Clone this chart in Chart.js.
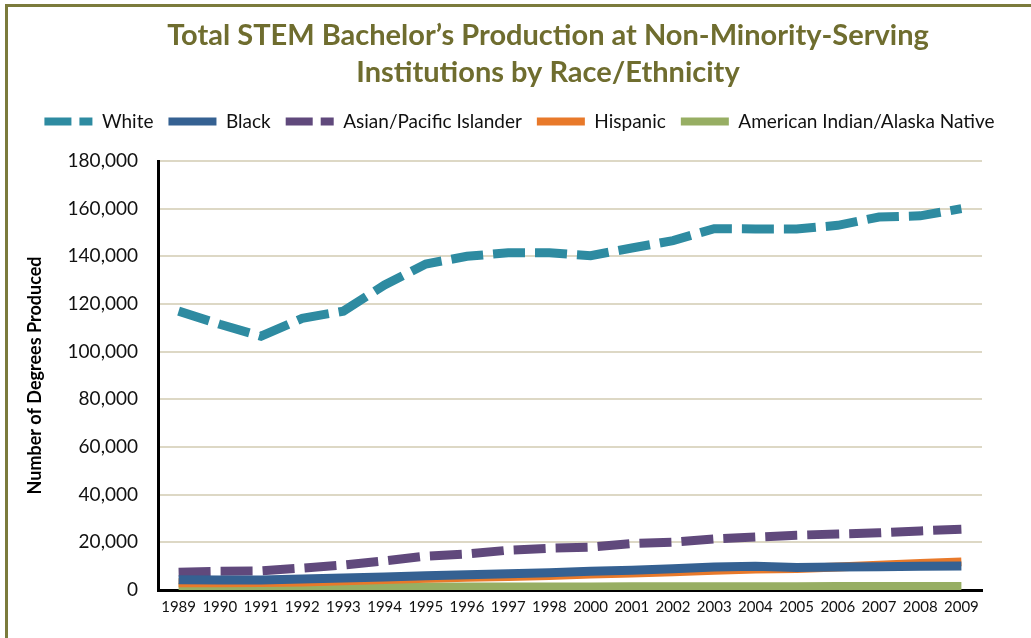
<!DOCTYPE html>
<html>
<head>
<meta charset="utf-8">
<script src="https://cdn.jsdelivr.net/npm/chart.js@4/dist/chart.umd.min.js"></script>
<style>
  html, body { margin: 0; padding: 0; background: #fff; }
  #wrap { position: relative; width: 1031px; height: 638px; }
  #frame { position: absolute; left: 5px; top: 4px; right: 0; bottom: 0;
           border-top: 3px solid #7b7b3c; border-left: 3px solid #7b7b3c; pointer-events: none; }
</style>
</head>
<body>
<div id="wrap">
  <canvas id="grafico" width="1031" height="638"></canvas>
  <div id="frame"></div>
</div>
<script>
// dados
const anos = ["1989","1990","1991","1992","1993","1994","1995","1996","1997","1998",
              "2000","2001","2002","2003","2004","2005","2006","2007","2008","2009"];

const branco = [117000,111500,106500,114000,117000,128000,136800,140000,141500,141500,
                140300,143500,146600,151600,151500,151500,153000,156500,157000,160000];
const negro = [4300,4200,4200,4600,5000,5500,6000,6400,6800,7200,
               7900,8300,8900,9700,10000,9400,9600,9800,10000,10100];
const asiatico = [7500,7900,8000,9200,10500,12200,14200,15100,16700,17500,
                  18000,19500,20100,21400,22200,23000,23500,24000,24800,25500];
const hispanico = [3000,3000,3100,3400,3900,4400,4900,5300,5700,6100,
                   6700,7100,7700,8300,8800,9000,9600,10400,11100,11800];
const indigena = [1100,1100,1100,1150,1200,1200,1250,1250,1300,1300,
                  1300,1350,1350,1400,1400,1400,1450,1450,1500,1500];

const yTicks = [0,20000,40000,60000,80000,100000,120000,140000,160000,180000];

const titulo = ["Total STEM Bachelor\u2019s Production at Non-Minority-Serving",
                "Institutions by Race/Ethnicity"];

const fonte = "Lato, 'Open Sans', sans-serif";

function serie(label, data, cor, tracejado){
    return {
        label: label,
        data: data,
        borderColor: cor,
        backgroundColor: cor,
        borderWidth: 9,
        borderDash: tracejado ? [32, 10] : [],
        borderCapStyle: "butt",
        borderJoinStyle: "miter",
        pointRadius: 0,
        tension: 0,
        fill: false,
        yAxisID: "y"
    };
}

// título desenhado à mão (fica um pouco à direita do centro, como no original)
const tituloPlugin = {
    id: "tituloDeslocado",
    afterDraw(chart){
        const ctx = chart.ctx;
        ctx.save();
        ctx.fillStyle = "#6f6d2f";
        ctx.font = "bold 29px " + fonte;
        ctx.textAlign = "center";
        ctx.textBaseline = "alphabetic";
        ctx.fillText(titulo[0], 548, 45);
        ctx.fillText(titulo[1], 548, 82);
        ctx.restore();
    }
};

new Chart(document.getElementById("grafico"), {
    type: "line",
    data: {
        labels: anos,
        datasets: [
            serie("White", branco, "#2e8ba1", true),
            serie("Black", negro, "#356192", false),
            serie("Asian/Pacific Islander", asiatico, "#60497c", true),
            serie("Hispanic", hispanico, "#e8792a", false),
            serie("American Indian/Alaska Native", indigena, "#97ae63", false)
        ]
    },
    plugins: [tituloPlugin],
    options: {
        responsive: false,
        animation: false,
        layout: { padding: { left: 8, right: 0, top: 97, bottom: 0 } },
        plugins: {
            title: { display: false },
            subtitle: {
                display: true,
                text: " ",
                font: { size: 1, lineHeight: 1 },
                padding: { top: 0, bottom: 19 }
            },
            legend: {
                display: true,
                position: "top",
                weight: 1600,
                labels: {
                    color: "#111",
                    font: { family: fonte, size: 19 },
                    usePointStyle: true,
                    pointStyleWidth: 48,
                    padding: 15,
                    generateLabels: function(chart){
                        return chart.data.datasets.map(function(ds, i){
                            return {
                                text: ds.label,
                                fillStyle: ds.borderColor,
                                strokeStyle: ds.borderColor,
                                lineWidth: 8,
                                lineDash: ds.borderDash.length ? [27, 8] : [],
                                lineCap: "butt",
                                pointStyle: "line",
                                fontColor: "#111",
                                hidden: false,
                                datasetIndex: i
                            };
                        });
                    }
                }
            },
            tooltip: { enabled: false }
        },
        scales: {
            x: {
                type: "category",
                offset: true,
                grid: { display: false, drawTicks: false },
                border: { display: true, color: "#000", width: 3 },
                ticks: {
                    color: "#111",
                    font: { family: fonte, size: 15 },
                    autoSkip: false,
                    maxRotation: 0,
                    padding: 8
                },
                afterFit: function(s){ s.height = 48; }
            },
            y: {
                min: 0,
                max: 180000,
                afterBuildTicks: function(s){ s.ticks = yTicks.map(v => ({ value: v })); },
                grid: { color: "#ddd8c5", lineWidth: 2, drawTicks: false },
                border: { display: true, color: "#000", width: 3 },
                ticks: {
                    color: "#111",
                    font: { family: fonte, size: 19 },
                    padding: 20,
                    callback: v => v.toLocaleString("en-US")
                },
                title: {
                    display: true,
                    text: "Number of Degrees Produced",
                    color: "#000",
                    font: { family: fonte, size: 18, weight: "bold" },
                    padding: { top: 16, bottom: 0 }
                },
                afterFit: function(s){ s.width = 150; }
            },
            // eixo vazio à direita só para reservar a margem
            margem: {
                position: "right",
                display: true,
                grid: { display: false, drawTicks: false },
                border: { display: false },
                ticks: { display: false },
                afterFit: function(s){ s.width = 49; }
            }
        }
    }
});
</script>
</body>
</html>
